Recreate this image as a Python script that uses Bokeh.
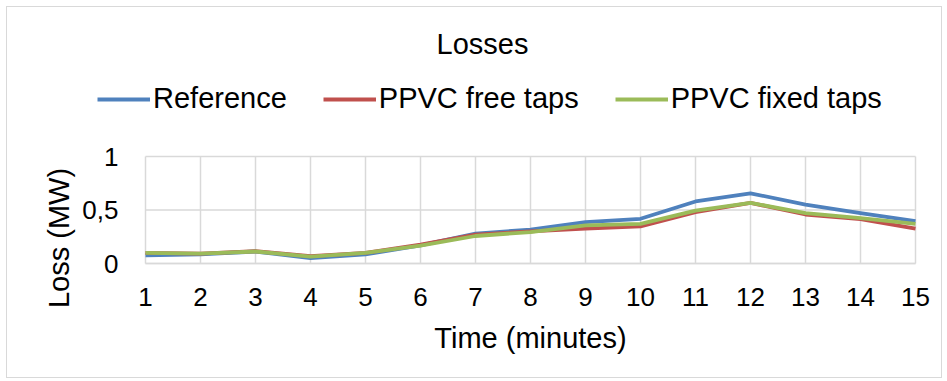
import math
from bokeh.plotting import figure
from bokeh.models import Legend, LegendItem, FixedTicker, Range1d, Label
from bokeh.embed import file_html
from bokeh.resources import INLINE

# ---- data ----
time = list(range(1, 16))
reference = [0.077, 0.085, 0.112, 0.050, 0.085, 0.170, 0.280, 0.316, 0.387, 0.418, 0.580, 0.656, 0.550, 0.470, 0.396]
ppvc_free = [0.100, 0.093, 0.115, 0.068, 0.100, 0.176, 0.270, 0.300, 0.325, 0.347, 0.480, 0.567, 0.458, 0.415, 0.325]
ppvc_fixed = [0.100, 0.093, 0.112, 0.065, 0.100, 0.167, 0.257, 0.294, 0.356, 0.370, 0.495, 0.567, 0.470, 0.424, 0.370]
series_names = ["Reference", "PPVC free taps", "PPVC fixed taps"]
y_ticks = [0, 0.5, 1]
y_tick_labels = ["0", "0,5", "1"]
title_text = "Losses"
x_title = "Time (minutes)"
y_title = "Loss (MW)"

FONT = "Liberation Sans"
colors = ["#4F81BD", "#C0504D", "#9BBB59"]
grid_col = "#D9D9D9"
LW = 3.8

# ---- layout (pixels inside the chart box) ----
W, H = 936, 372
PLOT_L, PLOT_R = 138, 908      # plot-area edges
PLOT_T, PLOT_B = 149, 256
x0, x1 = min(time), max(time)
y0, y1 = min(y_ticks), max(y_ticks)
xs = (PLOT_R - PLOT_L) / (x1 - x0)
ys_ = (PLOT_B - PLOT_T) / (y1 - y0)
x_range = Range1d(x0 - PLOT_L / xs, x1 + (W - PLOT_R) / xs)
y_range = Range1d(y0 - (H - PLOT_B) / ys_, y1 + PLOT_T / ys_)

p = figure(width=W, height=H, output_backend="svg", toolbar_location=None,
           x_range=x_range, y_range=y_range,
           min_border_left=0, min_border_right=0, min_border_top=0, min_border_bottom=0,
           styles={"border": "1px solid #D9D9D9", "margin": "6px 0 0 6px"})
p.outline_line_color = None
p.grid.visible = False

# gridlines of the plot area, from the tick values
p.segment(x0=time, y0=[y0] * len(time), x1=time, y1=[y1] * len(time),
          line_color=grid_col, line_width=1.5)
p.segment(x0=[x0] * len(y_ticks), y0=y_ticks, x1=[x1] * len(y_ticks), y1=y_ticks,
          line_color=grid_col, line_width=1.5)

renderers = []
for yv, c in zip([reference, ppvc_free, ppvc_fixed], colors):
    renderers.append(p.line(time, yv, line_color=c, line_width=LW, line_join="round"))

# axes fixed at the plot-area edges
p.xaxis.fixed_location = y0
p.yaxis.fixed_location = x0
p.xaxis.bounds = (x0, x1)
p.yaxis.bounds = (y0, y1)
p.xaxis.ticker = FixedTicker(ticks=time)
p.yaxis.ticker = FixedTicker(ticks=y_ticks)
p.yaxis.major_label_overrides = {t: l for t, l in zip(y_ticks, y_tick_labels)}
for ax in (p.xaxis, p.yaxis):
    ax.major_tick_out = 0
    ax.major_tick_in = 0
    ax.minor_tick_out = 0
    ax.minor_tick_in = 0
    ax.major_label_text_font = FONT
    ax.major_label_text_font_size = "26px"
    ax.major_label_text_color = "#000000"
p.xaxis.axis_line_color = grid_col
p.xaxis.axis_line_width = 1.5
p.yaxis.axis_line_color = None
p.xaxis.major_label_standoff = 24
p.yaxis.major_label_standoff = 27

# titles
def lab(**kw):
    p.add_layout(Label(x_units="screen", y_units="screen", text_font=FONT,
                       text_color="#000000", **kw))

lab(x=475, y=H - 36, text=title_text, text_font_size="29px",
    text_align="center", text_baseline="alphabetic")
lab(x=523, y=H - 330, text=x_title, text_font_size="29px",
    text_align="center", text_baseline="alphabetic")
lab(x=51, y=H - 230.5, text=y_title, text_font_size="29px", angle=math.pi / 2,
    text_align="center", text_baseline="alphabetic")

# legend
legend = Legend(items=[LegendItem(label=n, renderers=[r]) for n, r in zip(series_names, renderers)],
                orientation="horizontal", location=(90, H - 108),
                glyph_width=53, glyph_height=30, label_height=30, label_standoff=3, spacing=36,
                padding=0, margin=0, border_line_alpha=0, background_fill_alpha=0,
                label_text_font=FONT, label_text_font_size="29px", label_text_color="#000000")
p.add_layout(legend, "center")

open("out.html", "w").write(file_html(p, INLINE))
